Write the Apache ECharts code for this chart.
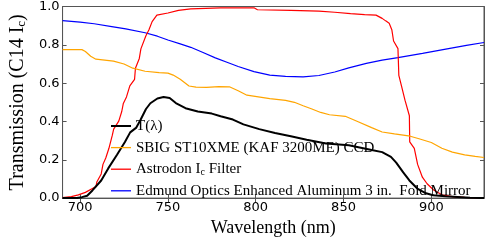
<!DOCTYPE html>
<html>
<head>
<meta charset="utf-8">
<script src="https://cdn.jsdelivr.net/npm/echarts@6/dist/echarts.min.js"></script>
<style>html,body{margin:0;padding:0;background:#fff}#c{width:485px;height:242px}</style>
</head>
<body>
<div id="c"></div>
<script>
// ---- data ----
const seriesNames = ['T(λ)', 'SBIG ST10XME (KAF 3200ME) CCD', 'Astrodon I_c Filter', 'Edmund Optics Enhanced Aluminum 3 in.  Fold Mirror'];
const xTicks = [700, 750, 800, 850, 900];
const yTicks = [0, 0.2, 0.4, 0.6, 0.8, 1.0];

const tWl  = [690, 698, 701, 704, 707, 712, 716, 721, 725.5, 728.5, 732, 734.5, 737.5, 740, 744, 747.5, 751, 754.5, 760, 767, 775, 780, 787, 793, 802, 811, 820, 829, 840, 853, 866, 872, 877, 880, 884, 887.5, 892, 897, 901, 908, 915, 922, 930];
const tVal = [0, 0, 0.005, 0.012, 0.04, 0.092, 0.155, 0.226, 0.293, 0.343, 0.368, 0.41, 0.465, 0.495, 0.52, 0.528, 0.522, 0.496, 0.469, 0.452, 0.441, 0.427, 0.41, 0.385, 0.36, 0.34, 0.323, 0.305, 0.285, 0.276, 0.251, 0.24, 0.215, 0.185, 0.134, 0.092, 0.05, 0.025, 0.015, 0.01, 0.006, 0.002, 0];

const ccdWl  = [690, 701, 703, 706, 709, 719, 725, 730, 737, 745, 750, 753, 757, 762, 766, 772, 779, 785, 790, 795, 808, 817, 822, 827, 832, 837, 842, 851, 858, 866, 872, 879, 888, 893, 900, 906, 912, 919, 925, 930];
const ccdVal = [0.775, 0.775, 0.765, 0.74, 0.725, 0.715, 0.7, 0.678, 0.662, 0.655, 0.652, 0.642, 0.62, 0.585, 0.579, 0.578, 0.582, 0.581, 0.56, 0.537, 0.519, 0.51, 0.5, 0.482, 0.465, 0.447, 0.435, 0.427, 0.4, 0.368, 0.345, 0.335, 0.323, 0.31, 0.29, 0.26, 0.24, 0.226, 0.218, 0.212];

const filtWl  = [690, 695, 699, 703, 707, 709, 709.5, 712, 713, 714.6, 716.4, 718.3, 719.1, 722, 723.7, 724.6, 726.4, 728.3, 731, 731.5, 733.7, 734.6, 737.4, 739.2, 741, 743.7, 750, 756, 763, 780, 799, 801, 820, 836, 845, 854, 862, 868.5, 872, 874, 876, 877.5, 878.5, 881, 881.5, 883, 885, 887.5, 887.7, 890.3, 892.2, 894.9, 897.6, 901.3, 906, 912, 919, 930];
const filtVal = [0.003, 0.008, 0.017, 0.03, 0.05, 0.06, 0.084, 0.126, 0.176, 0.209, 0.26, 0.327, 0.36, 0.402, 0.452, 0.494, 0.528, 0.586, 0.62, 0.678, 0.729, 0.779, 0.846, 0.879, 0.921, 0.955, 0.966, 0.98, 0.988, 0.993, 0.993, 0.983, 0.98, 0.976, 0.97, 0.963, 0.958, 0.955, 0.938, 0.925, 0.913, 0.879, 0.82, 0.78, 0.64, 0.586, 0.511, 0.43, 0.293, 0.26, 0.176, 0.109, 0.075, 0.042, 0.017, 0.008, 0.004, 0];

const mirWl  = [690, 700, 708, 718, 726, 737, 744, 750, 757, 763, 770, 777, 784, 790, 799, 808, 817, 827, 836, 845, 853, 863, 872, 881, 895, 909, 920, 930];
const mirVal = [0.926, 0.918, 0.91, 0.895, 0.883, 0.863, 0.845, 0.825, 0.805, 0.787, 0.76, 0.732, 0.708, 0.687, 0.66, 0.642, 0.635, 0.633, 0.64, 0.658, 0.68, 0.703, 0.72, 0.733, 0.755, 0.779, 0.797, 0.812];

const colors = ['#000000', '#ffa500', '#ff0000', '#0000ff'];
const widths = [2, 1.2, 1.2, 1.2];

function pairs(xs, ys) { return xs.map((x, i) => [x, ys[i]]); }
const dataSets = [pairs(tWl, tVal), pairs(ccdWl, ccdVal), pairs(filtWl, filtVal), pairs(mirWl, mirVal)];

const serif = 'Liberation Serif';
const sans = 'DejaVu Sans';
const axisCol = '#555';

const chart = echarts.init(document.getElementById('c'), null, {renderer: 'canvas'});
const seriesOrder = [3, 2, 1, 0];
chart.setOption({
  animation: false,
  grid: {left: 45, right: 1, top: 6, bottom: 37, show: true, borderColor: axisCol, borderWidth: 1},
  legend: {
    orient: 'vertical', left: 111, top: 118, padding: 0,
    itemWidth: 20, itemHeight: 2, itemGap: 5.6,
    data: seriesNames.map((n, i) => ({name: n, icon: i === 0 ? 'path://M0,0H20V2H0Z' : 'path://M0,0H20V1.3H0Z'})),
    formatter: function (n) { return n.replace('I_c', 'I{sub|c}'); },
    textStyle: {fontFamily: serif, fontSize: 15, color: '#000', lineHeight: 16,
      rich: {sub: {fontFamily: serif, fontSize: 10, lineHeight: 10, verticalAlign: 'bottom'}}}
  },
  xAxis: [{
    type: 'value', min: 690, max: 930, position: 'bottom',
    name: 'Wavelength (nm)', nameLocation: 'middle', nameGap: 15,
    nameTextStyle: {fontFamily: serif, fontSize: 18, color: '#000', verticalAlign: 'top'},
    axisLine: {show: true, lineStyle: {color: axisCol}},
    axisTick: {show: true, inside: true, length: 4, customValues: xTicks, lineStyle: {color: axisCol}},
    axisLabel: {customValues: xTicks, fontFamily: sans, fontSize: 13, color: '#000', margin: 3},
    splitLine: {show: false}
  }, {
    type: 'value', min: 690, max: 930, position: 'top',
    axisLine: {show: true, lineStyle: {color: axisCol}},
    axisTick: {show: true, inside: true, length: 4, customValues: xTicks, lineStyle: {color: axisCol}},
    axisLabel: {show: false}, splitLine: {show: false}
  }],
  yAxis: [{
    type: 'value', min: 0, max: 1, interval: 0.2, position: 'left',
    name: 'Transmission (C14 I{sub|c})', nameLocation: 'middle', nameGap: 24,
    nameTextStyle: {fontFamily: serif, fontSize: 20, color: '#000', lineHeight: 20,
      rich: {sub: {fontFamily: serif, fontSize: 13, lineHeight: 12, verticalAlign: 'bottom'}}},
    axisLine: {show: true, lineStyle: {color: axisCol}},
    axisTick: {show: true, inside: true, length: 4, lineStyle: {color: axisCol}},
    axisLabel: {fontFamily: sans, fontSize: 13, color: '#000', margin: 3, formatter: v => v.toFixed(1)},
    splitLine: {show: false}
  }, {
    type: 'value', min: 0, max: 1, interval: 0.2, position: 'right',
    axisLine: {show: true, lineStyle: {color: axisCol}},
    axisTick: {show: true, inside: true, length: 4, lineStyle: {color: axisCol}},
    axisLabel: {show: false}, splitLine: {show: false}
  }],
  series: seriesOrder.map(i => ({
    name: seriesNames[i], type: 'line', data: dataSets[i], xAxisIndex: 0, yAxisIndex: 0,
    symbol: 'none', smooth: false, clip: true,
    color: colors[i], lineStyle: {color: colors[i], width: widths[i]}
  }))
});
</script>
</body>
</html>
